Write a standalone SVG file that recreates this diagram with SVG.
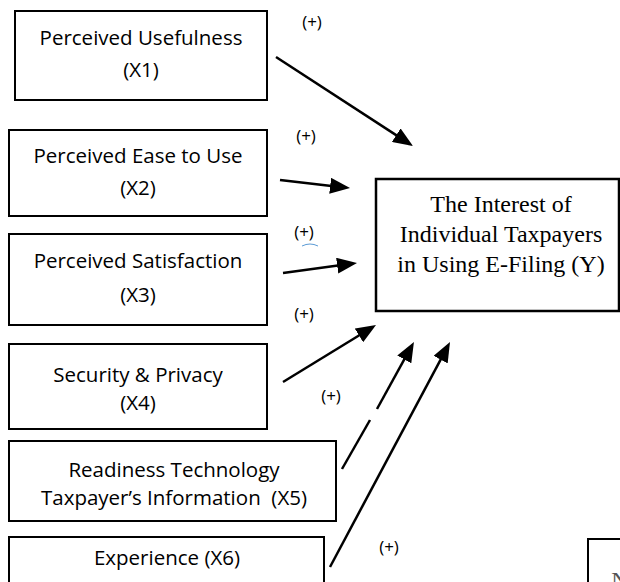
<svg xmlns="http://www.w3.org/2000/svg" width="620" height="582" viewBox="0 0 620 582">
<style>
.box{fill:#fff;stroke:#000;stroke-width:2}
.t{font-family:"Open Sans","Noto Sans",sans-serif;font-size:20.5px;fill:#000;text-anchor:middle}
.s{font-family:"Liberation Serif","Times New Roman",serif;font-size:24px;fill:#000;text-anchor:middle}
.p{font-family:"Open Sans","Noto Sans",sans-serif;font-size:17px;fill:#000;text-anchor:middle}
.c{fill:none;stroke:#000;stroke-width:2.5}
</style>
<defs>
<marker id="ah" markerUnits="userSpaceOnUse" markerWidth="20" markerHeight="16" refX="10" refY="8" orient="auto">
<path d="M0,0 L20,8 L0,16 z" fill="#000"/>
</marker>
</defs>
<rect width="620" height="582" fill="#fff"/>
<g id="x1">
<rect class="box" x="15" y="11" width="252" height="89"/>
<text class="t" x="141" y="45">Perceived Usefulness</text>
<text class="t" x="141" y="77">(X1)</text>
</g>
<g id="x2">
<rect class="box" x="9" y="130" width="258" height="86"/>
<text class="t" x="138" y="163">Perceived Ease to Use</text>
<text class="t" x="138" y="195">(X2)</text>
</g>
<g id="x3">
<rect class="box" x="9" y="234" width="258" height="91"/>
<text class="t" x="138" y="268">Perceived Satisfaction</text>
<text class="t" x="138" y="302">(X3)</text>
</g>
<g id="x4">
<rect class="box" x="9" y="344" width="258" height="85"/>
<text class="t" x="138" y="382">Security &amp; Privacy</text>
<text class="t" x="138" y="410">(X4)</text>
</g>
<g id="x5">
<rect class="box" x="9" y="441" width="327" height="80"/>
<text class="t" x="174" y="477">Readiness Technology</text>
<text class="t" x="174" y="505" xml:space="preserve">Taxpayer’s Information  (X5)</text>
</g>
<g id="x6">
<rect class="box" x="9" y="537" width="315" height="60"/>
<text class="t" x="167" y="565">Experience (X6)</text>
</g>
<g id="y">
<rect class="box" style="stroke-width:2.5" x="376" y="179" width="243" height="132"/>
<text class="s" x="501" y="212">The Interest of</text>
<text class="s" x="501" y="242">Individual Taxpayers</text>
<text class="s" x="501" y="272">in Using E-Filing (Y)</text>
</g>
<g id="partial">
<rect class="box" x="588" y="539" width="60" height="60"/>
<text class="s" x="620" y="588" style="fill:#555">N</text>
</g>
<g id="connectors">
<line class="c" x1="276" y1="57" x2="404.6" y2="140.6" marker-end="url(#ah)"/>
<line class="c" x1="280" y1="180" x2="340.1" y2="186.9" marker-end="url(#ah)"/>
<line class="c" x1="283" y1="273" x2="347.1" y2="264.3" marker-end="url(#ah)"/>
<line class="c" x1="283" y1="382" x2="367.5" y2="330.2" marker-end="url(#ah)"/>
<line class="c" x1="342" y1="469" x2="370" y2="420"/>
<line class="c" x1="377" y1="409" x2="409.1" y2="350.7" marker-end="url(#ah)"/>
<line class="c" x1="330" y1="567" x2="445.3" y2="350.8" marker-end="url(#ah)"/>
</g>
<g id="labels">
<text class="p" x="312" y="28">(+)</text>
<text class="p" x="306" y="142">(+)</text>
<text class="p" x="304" y="238">(+)</text>
<path d="M302,246 Q310,242 318,246" fill="none" stroke="#5b9bd5" stroke-width="1"/>
<text class="p" x="304" y="320">(+)</text>
<text class="p" x="331" y="402">(+)</text>
<text class="p" x="389" y="553">(+)</text>
</g>
</svg>
